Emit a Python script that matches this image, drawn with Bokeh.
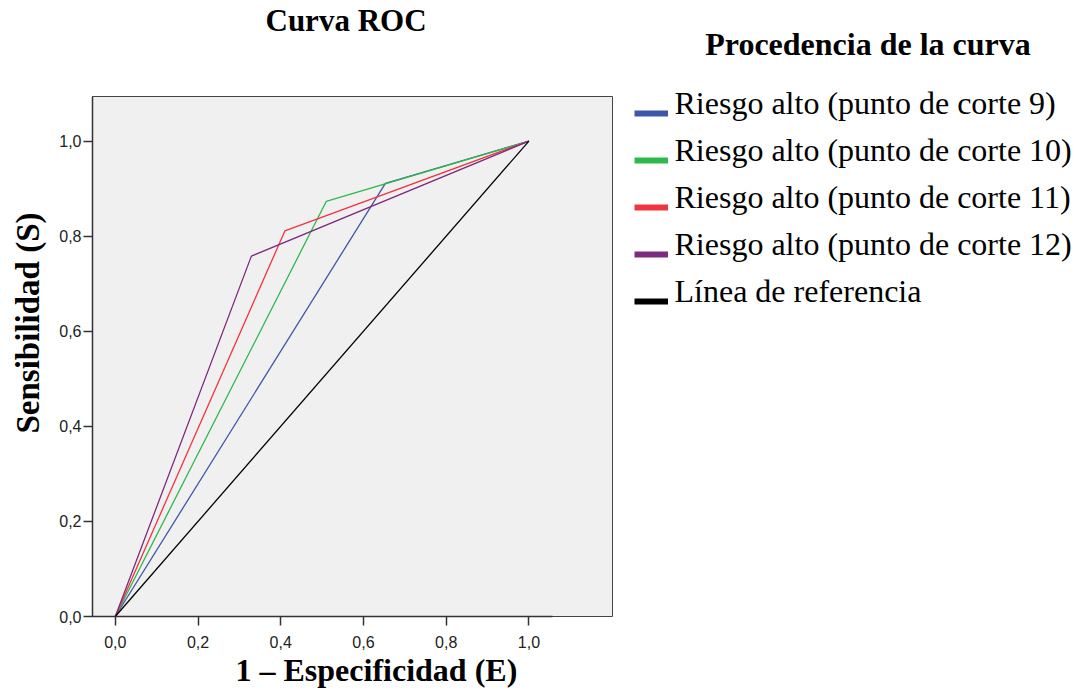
import math
from bokeh.plotting import figure
from bokeh.models import Label, Legend, LegendItem, FixedTicker, Range1d, Title
from bokeh.layouts import column, row
from bokeh.embed import file_html
from bokeh.resources import INLINE

# ---- data ----
tick_values = [0.0, 0.2, 0.4, 0.6, 0.8, 1.0]
tick_labels = ["0,0", "0,2", "0,4", "0,6", "0,8", "1,0"]

series_names = [
    "Riesgo alto (punto de corte 9)",
    "Riesgo alto (punto de corte 10)",
    "Riesgo alto (punto de corte 11)",
    "Riesgo alto (punto de corte 12)",
]
fpr_9 = [0.0, 0.653, 1.0]
tpr_9 = [0.0, 0.911, 1.0]
fpr_10 = [0.0, 0.510, 1.0]
tpr_10 = [0.0, 0.873, 1.0]
fpr_11 = [0.0, 0.410, 1.0]
tpr_11 = [0.0, 0.811, 1.0]
fpr_12 = [0.0, 0.329, 1.0]
tpr_12 = [0.0, 0.758, 1.0]
ref_x = [0.0, 1.0]
ref_y = [0.0, 1.0]
ref_name = "Línea de referencia"

chart_title = "Curva ROC"
legend_title = "Procedencia de la curva"
x_label = "1 – Especificidad (E)"
y_label = "Sensibilidad (S)"

colors = ["#3e57aa", "#2eb94c", "#f03540", "#7d2a7f"]

SERIF = "Liberation Serif"
SANS = "Liberation Sans"

TOP_H = 72
TOTAL_W = 1074
TEXT_SHIFT = 9.5   # rendered text sits lower than its anchor

# ---- top strip with the two headings ----
pt = figure(width=TOTAL_W, height=TOP_H, x_range=Range1d(0, TOTAL_W), y_range=Range1d(0, TOP_H),
            x_axis_type=None, y_axis_type=None, min_border=0, title=None,
            output_backend="svg", toolbar_location=None)
pt.frame_align = False
pt.outline_line_color = None
pt.grid.visible = False
pt.add_layout(Label(x=345.5, y=TOP_H - 29 + TEXT_SHIFT, text=chart_title, text_font=SERIF,
                    text_font_size="31px", text_font_style="bold", text_align="center",
                    text_baseline="alphabetic", text_color="black"))
pt.add_layout(Label(x=867.5, y=TOP_H - 53.3 + TEXT_SHIFT, text=legend_title, text_font=SERIF,
                    text_font_size="32px", text_font_style="bold", text_align="center",
                    text_baseline="alphabetic", text_color="black"))

# ---- main plot ----
p = figure(
    frame_width=520, frame_height=520,
    min_border_left=92, min_border_right=1,
    min_border_top=96 - TOP_H, min_border_bottom=78,
    x_range=Range1d(-0.0551, 1.2021), y_range=Range1d(0.0, 1.0938),
    title=None, output_backend="svg", toolbar_location=None,
)
p.frame_align = False
p.background_fill_color = "#f0f0f0"
p.border_fill_color = "white"
p.outline_line_color = "#444444"
p.outline_line_width = 1
p.grid.visible = False

for ax in (p.xaxis[0], p.yaxis[0]):
    ax.ticker = FixedTicker(ticks=tick_values)
    ax.major_label_overrides = {v: s for v, s in zip(tick_values, tick_labels)}
    ax.minor_tick_line_color = None
    ax.major_tick_in = 0
    ax.major_tick_out = 9
    ax.major_tick_line_color = "#333333"
    ax.major_tick_line_width = 1.5
    ax.axis_line_color = "#333333"
    ax.axis_line_width = 1.5
    ax.major_label_text_font = SANS
    ax.major_label_text_font_size = "16px"
    ax.major_label_text_color = "#222222"
p.xaxis[0].bounds = (-0.0551, 1.058)
p.yaxis[0].bounds = (0.0, 1.11)
p.xaxis[0].major_label_standoff = 10
p.yaxis[0].major_label_standoff = 2

p.add_layout(Title(text=x_label, align="left", offset=143, vertical_align="top",
                   standoff=2, text_font=SERIF, text_font_size="32px",
                   text_font_style="bold", text_color="black"), "below")
p.add_layout(Title(text=y_label, align="left", offset=183, vertical_align="top",
                   standoff=18, text_font=SERIF, text_font_size="33px",
                   text_font_style="bold", text_color="black"), "left")

xs = [fpr_9, fpr_10, fpr_11, fpr_12]
ys = [tpr_9, tpr_10, tpr_11, tpr_12]
for x, y, c in zip(xs, ys, colors):
    p.line(x, y, line_color=c, line_width=1.3)
p.line(ref_x, ref_y, line_color="black", line_width=1.3)

# ---- legend strip (proxy lines lie outside its ranges, only the legend shows) ----
MAIN_W = 92 + 520 + 1
LEG_W = TOTAL_W - MAIN_W
LEG_H = 694 - TOP_H
pl = figure(width=LEG_W, height=LEG_H, x_range=Range1d(5, 6), y_range=Range1d(5, 6),
            x_axis_type=None, y_axis_type=None, min_border=0, title=None,
            output_backend="svg", toolbar_location=None)
pl.frame_align = False
pl.outline_line_color = None
pl.grid.visible = False

all_names = series_names + [ref_name]
all_x = xs + [ref_x]
all_y = ys + [ref_y]
all_colors = colors + ["black"]

swatch_items = []
text_items = []
for name, x, y, c in zip(all_names, all_x, all_y, all_colors):
    r_vis = pl.line(x, y, line_color=c, line_width=6)
    swatch_items.append(LegendItem(label=" ", renderers=[r_vis]))
    r_txt = pl.line(x, y, line_color=c, line_width=6, line_alpha=0)
    text_items.append(LegendItem(label=name, renderers=[r_txt]))

item_h = 40
gap = 7
leg_h = 5 * item_h + 4 * gap
leg_top = 93 - TOP_H
common = dict(
    margin=0, padding=0, spacing=gap,
    glyph_width=34, glyph_height=item_h, label_height=item_h,
    label_standoff=7,
    label_text_font=SERIF, label_text_font_size="32px",
    label_text_baseline="alphabetic", label_text_color="black",
    border_line_color=None, background_fill_alpha=0,
)
legend_swatch = Legend(items=swatch_items,
                       location=(633.5 - MAIN_W, LEG_H - leg_top - leg_h), **common)
legend_text = Legend(items=text_items,
                     location=(633.5 - MAIN_W, LEG_H - leg_top - leg_h + TEXT_SHIFT), **common)
pl.add_layout(legend_swatch, "center")
pl.add_layout(legend_text, "center")

layout = column(pt, row(p, pl))
open("out.html", "w").write(file_html(layout, INLINE))
